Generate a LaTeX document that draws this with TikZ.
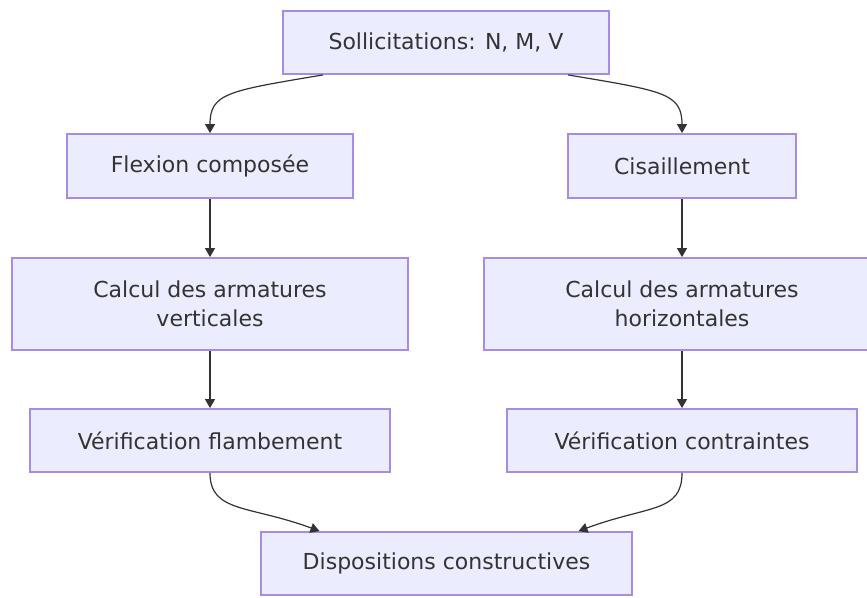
\documentclass[tikz,border=0pt]{standalone}
\usepackage{fontspec}
\setmainfont{DejaVu Sans}
\usetikzlibrary{arrows.meta}
\definecolor{boxfill}{HTML}{ECECFF}
\definecolor{boxline}{HTML}{A88BE3}
\definecolor{ink}{HTML}{333333}
\tikzset{
  stage/.style={draw=boxline, fill=boxfill, line width=1.8pt, inner sep=0pt,
    text=ink, font=\fontsize{22}{29}\selectfont, align=center},
  flow/.style={draw=ink, line width=1.2pt,
    -{Triangle[length=9pt,width=10pt]}}
}
\begin{document}
\begin{tikzpicture}[x=1pt,y=-1pt]
\useasboundingbox (0,0) rectangle (867,597);
\begin{scope}
\clip (0,0) rectangle (867,597);
\node[stage, minimum width=326, minimum height=63] (sol) at (446,42.5) {Sollicitations: N, M, V};
\node[stage, minimum width=286, minimum height=64] (flex) at (210,166) {Flexion composée};
\node[stage, minimum width=228, minimum height=64] (cis) at (682,166) {Cisaillement};
\node[stage, minimum width=396, minimum height=92] (armv) at (210,304) {Calcul des armatures\\verticales};
\node[stage, minimum width=396, minimum height=92] (armh) at (682,304) {Calcul des armatures\\horizontales};
\node[stage, minimum width=360, minimum height=63] (flamb) at (210,440.5) {Vérification flambement};
\node[stage, minimum width=350, minimum height=63] (contr) at (682,440.5) {Vérification contraintes};
\node[stage, minimum width=371, minimum height=63] (disp) at (446.5,563.5) {Dispositions constructives};

\draw[flow] ([xshift=-123pt]sol.south) .. controls +(-95,16) and +(0,-40) .. (flex.north);
\draw[flow] ([xshift=122pt]sol.south) .. controls +(95,16) and +(0,-40) .. (cis.north);
\draw[flow] (flex.south) -- (armv.north);
\draw[flow] (cis.south) -- (armh.north);
\draw[flow] (armv.south) -- (flamb.north);
\draw[flow] (armh.south) -- (contr.north);
\draw[flow] (flamb.south) .. controls +(0,40) and +(-70,-26) .. ([xshift=-127pt]disp.north);
\draw[flow] (contr.south) .. controls +(0,40) and +(70,-26) .. ([xshift=132pt]disp.north);
\end{scope}
\end{tikzpicture}
\end{document}
